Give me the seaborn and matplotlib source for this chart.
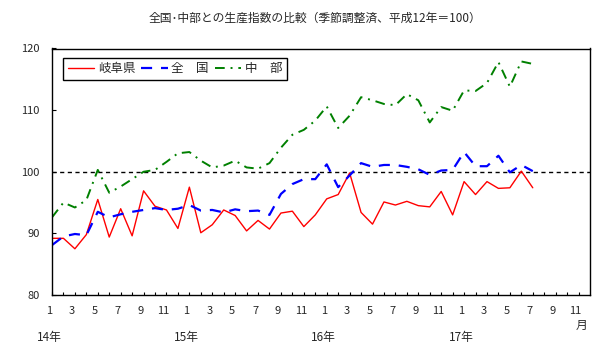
import matplotlib
matplotlib.use("Agg")
import matplotlib.pyplot as plt
import matplotlib.transforms as mtrans
import numpy as np
import pandas as pd
import seaborn as sns

# monthly index, 14年1月 .. 17年7月
gifu = [89.2, 89.2, 87.5, 89.8, 95.5, 89.4, 94.0, 89.6, 96.9, 94.4, 93.8, 90.8,
        97.5, 90.1, 91.4, 93.8, 92.9, 90.4, 92.1, 90.7, 93.3, 93.6, 91.1, 93.0,
        95.6, 96.3, 99.8, 93.4, 91.5, 95.1, 94.6, 95.2, 94.5, 94.3, 96.8, 93.0,
        98.4, 96.3, 98.4, 97.3, 97.4, 100.1, 97.4]
zenkoku = [88.1, 89.5, 89.9, 89.7, 93.5, 92.6, 93.1, 93.5, 93.8, 94.1, 93.8, 94.0,
           94.6, 93.7, 93.8, 93.4, 93.9, 93.6, 93.7, 93.0, 96.4, 98.0, 98.8, 98.8,
           101.2, 97.5, 99.4, 101.4, 100.8, 101.1, 101.1, 100.8, 100.4, 99.5, 100.2, 100.3,
           103.2, 100.9, 100.9, 102.6, 99.9, 101.1, 100.1]
chubu = [92.6, 95.0, 94.2, 95.4, 100.3, 96.6, 97.6, 98.8, 100.0, 100.3, 101.6, 103.0,
         103.2, 101.8, 100.7, 101.0, 101.8, 100.7, 100.5, 101.4, 103.9, 106.0, 106.8, 108.3,
         110.6, 107.1, 109.1, 112.1, 111.6, 111.0, 110.8, 112.6, 111.6, 108.0, 110.5, 109.9,
         113.2, 113.1, 114.4, 117.8, 113.8, 117.9, 117.5]
series_names = ["岐阜県", "全　国", "中　部"]
month_labels = ["1", "3", "5", "7", "9", "11"] * 4
year_labels = ["14年", "15年", "16年", "17年"]

df = pd.DataFrame({"idx": np.arange(len(gifu)), "岐阜県": gifu,
                   "全　国": zenkoku, "中　部": chubu})

sns.set_theme(style="white")
plt.rcParams['font.family'] = ['Noto Sans CJK JP', 'DejaVu Sans']

fig = plt.figure(figsize=(6.04, 3.52), dpi=100)
ax = fig.add_axes([52 / 604, 1 - 295 / 352, 538 / 604, 246.5 / 352])

colors = ["#ff0000", "#0000ff", "#008000"]
dashes = [None, (5, 4), (5, 3, 1, 3)]
widths = [1.0, 1.6, 1.4]
for name, c, d, w in zip(series_names, colors, dashes, widths):
    sns.lineplot(data=df, x="idx", y=name, color=c, lw=w, label=name, ax=ax)
    if d is not None:
        ax.lines[-1].set_dashes(d)

ax.axhline(100, color="black", lw=1, dashes=(3, 2.5), zorder=1)

ax.set_xlim(0, 47)
ax.set_ylim(80, 120)
ax.set_xlabel("")
ax.set_ylabel("")
ax.set_xticks(np.arange(0, 47, 2))
ax.set_xticklabels(month_labels)
ax.set_xticks(np.arange(1, 47), minor=True)
ax.set_yticks([80, 90, 100, 110, 120])
ax.tick_params(axis="x", which="both", direction="in", length=2.5, width=0.8,
               color="black", labelsize=8, pad=8, bottom=True, top=False)
ax.tick_params(axis="y", direction="in", length=3, width=0.8, color="black",
               labelsize=8, pad=9, left=True, right=False)
for lab in ax.get_xticklabels():
    lab.set_transform(lab.get_transform() +
                      mtrans.ScaledTranslation(-3 / 100, 0, fig.dpi_scale_trans))
for sp in ax.spines.values():
    sp.set_color("black")
    sp.set_linewidth(1.0)

for i, y in enumerate(year_labels):
    ax.text(i * 12 - 0.25, -0.172, y, transform=ax.get_xaxis_transform(),
            ha="center", va="center", fontsize=8.5)
ax.text(46.3, -0.122, "月", transform=ax.get_xaxis_transform(),
        ha="center", va="center", fontsize=8.5)

leg = ax.legend(loc="upper left", bbox_to_anchor=(0.021, 0.962), ncol=3,
                frameon=True, fancybox=False, framealpha=1, edgecolor="black",
                fontsize=9, handlelength=2.1, handletextpad=0.3,
                columnspacing=0.5, borderpad=0.35, borderaxespad=0)
leg.get_frame().set_linewidth(1.0)

fig.text(315 / 604, 1 - 18 / 352,
         "全国･中部との生産指数の比較（季節調整済、平成12年＝100）",
         ha="center", va="center", fontsize=8.5)

fig.savefig("out.png", dpi=100)
